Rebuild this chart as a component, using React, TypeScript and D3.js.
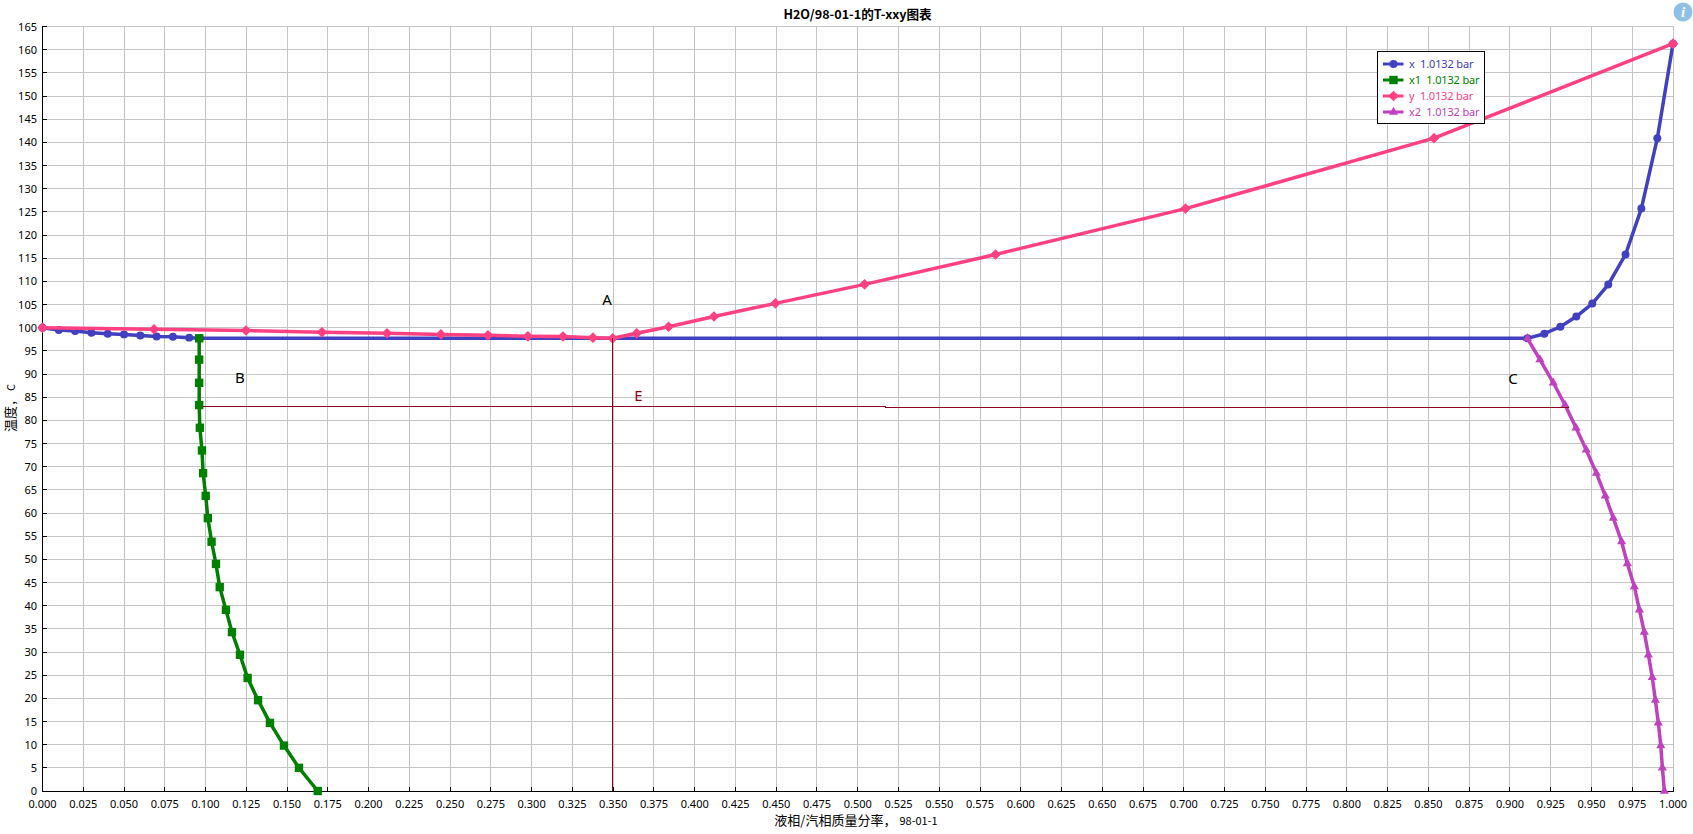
import React from 'react';
import * as d3 from 'd3';

const W = 1693, H = 834;
const xTicks = d3.range(0, 41).map(i => i * 0.025);
const yTicks = d3.range(0, 34).map(i => i * 5);

const xX = [0,0.01,0.02,0.03,0.04,0.05,0.06,0.07,0.08,0.09,0.0965,0.9107,0.9211,0.9309,0.9407,0.9505,0.9603,0.9709,0.9806,0.9904,1];
const xT = [100,99.5,99.3,98.9,98.7,98.55,98.3,98.07,98.05,97.85,97.7,97.7,98.7,100.2,102.4,105.2,109.3,115.8,125.7,140.9,161.3];

const x1X = [0.0961,0.0961,0.0961,0.0961,0.0965,0.0978,0.0985,0.1001,0.1014,0.1037,0.1064,0.1087,0.1125,0.1162,0.1211,0.1258,0.1322,0.1395,0.1481,0.1573,0.1688];
const x1T = [97.7,93.1,88.1,83.3,78.4,73.5,68.6,63.7,58.9,53.8,49,44,39.1,34.3,29.4,24.4,19.6,14.7,9.8,5,0];

const yX = [0,0.0684,0.1248,0.1714,0.2113,0.2444,0.2732,0.2977,0.3192,0.3376,0.3497,0.3644,0.384,0.4118,0.4495,0.5042,0.5845,0.701,0.8534,1];
const yT = [100,99.65,99.4,99,98.8,98.55,98.35,98.13,98.1,97.85,97.7,98.78,100.2,102.4,105.25,109.35,115.8,125.7,140.9,161.3];

const x2X = [0.9107,0.9184,0.9266,0.9338,0.9405,0.9468,0.953,0.9585,0.9634,0.9685,0.972,0.9763,0.9794,0.9824,0.9849,0.9873,0.9892,0.991,0.9925,0.9935,0.9947];
const x2T = [97.7,93.1,88.1,83.3,78.4,73.6,68.6,63.7,58.9,53.8,49.1,44.1,39.1,34.3,29.4,24.5,19.6,14.7,9.8,5,0];

const tieV = { x: [0.3496, 0.3496], t: [97.7, 0] };
const tieH = { x: [0.0986, 0.5173, 0.5173, 0.9364], t: [83, 83, 82.87, 82.87] };

const seriesNames = ['x  1.0132 bar', 'x1  1.0132 bar', 'y  1.0132 bar', 'x2  1.0132 bar'];
const seriesColors = ['#4040c0', '#008000', '#ff4081', '#c040c0'];

const sx = d3.scaleLinear().domain([0, 1]).range([42.5, 1673]);
const sy = d3.scaleLinear().domain([0, 165]).range([791, 26.5]);
const snap = (v: number) => Math.floor(v) + 0.5;
const uiFont = '"Noto Sans", "Noto Sans CJK SC", sans-serif';
const cjkFont = '"Noto Sans CJK SC", "Noto Sans", sans-serif';

const path = (xs: number[], ts: number[]) =>
  d3.line<number>().x(i => sx(xs[i])).y(i => sy(ts[i]))(xs.map((_, i) => i)) as string;

const sym = (type: d3.SymbolType, size: number) => d3.symbol().type(type).size(size)() as string;
const symbols = [
  sym(d3.symbolCircle, 50),
  sym(d3.symbolSquare, 70),
  sym(d3.symbolDiamond2, 72),
  sym(d3.symbolTriangle, 36),
];

const series = [
  { xs: xX, ts: xT, i: 0 },
  { xs: x1X, ts: x1T, i: 1 },
  { xs: yX, ts: yT, i: 2 },
  { xs: x2X, ts: x2T, i: 3 },
];

export default function App() {
  return (
    <svg width={W} height={H} style={{ position: 'absolute', left: 0, top: 0, display: 'block', background: '#fff' }}>
      <g stroke="#c4c4c4" strokeWidth={1}>
        {xTicks.slice(1).map((v, i) => <line key={i} x1={snap(sx(v))} x2={snap(sx(v))} y1={26} y2={791} />)}
        {yTicks.slice(1).map((v, i) => <line key={i} x1={42} x2={1674} y1={snap(sy(v))} y2={snap(sy(v))} />)}
      </g>
      <g stroke="#000" strokeWidth={1}>
        <line x1={42.5} x2={42.5} y1={26} y2={792} />
        <line x1={42} x2={1674} y1={791.5} y2={791.5} />
        {xTicks.map((v, i) => <line key={i} x1={snap(sx(v))} x2={snap(sx(v))} y1={787} y2={791} />)}
        {yTicks.map((v, i) => <line key={i} x1={43} x2={47} y1={snap(sy(v))} y2={snap(sy(v))} />)}
      </g>
      <g fontFamily={uiFont} fontSize={11} fill="#000">
        {xTicks.map((v, i) => <text key={i} x={sx(v)} y={808} textAnchor="middle">{v.toFixed(3)}</text>)}
        {yTicks.map((v, i) => <text key={i} x={37} y={sy(v) + 4} textAnchor="end">{v}</text>)}
      </g>

      {series.map(s => (
        <g key={s.i} fill={seriesColors[s.i]}>
          <path d={path(s.xs, s.ts)} fill="none" stroke={seriesColors[s.i]} strokeWidth={3.5} strokeLinejoin="round" />
          {s.xs.map((v, k) => (
            <path key={k} d={symbols[s.i]} transform={`translate(${sx(v)},${sy(s.ts[k])})`} />
          ))}
        </g>
      ))}

      <g fill="none" stroke="#8b0020" strokeWidth={1} shapeRendering="crispEdges">
        <path d={path(tieV.x, tieV.t)} />
        <path d={path(tieH.x, tieH.t)} />
      </g>

      <g fontFamily={uiFont} fontSize={15}>
        <text x={607} y={305} textAnchor="middle" fill="#000">A</text>
        <text x={240} y={383} textAnchor="middle" fill="#000">B</text>
        <text x={1513} y={384} textAnchor="middle" fill="#000">C</text>
        <text x={638.5} y={401} textAnchor="middle" fill="#8b0020">E</text>
      </g>

      <text x={857.5} y={19} textAnchor="middle" fontFamily={cjkFont} fontSize={12.6} fontWeight={700} fill="#000">H2O/98-01-1的T-xxy图表</text>
      <text x={856} y={825} textAnchor="middle" fontFamily={cjkFont} fontSize={13} fill="#000">
        液相/汽相质量分率，<tspan fontSize={11} dx={3}>98-01-1</tspan>
      </text>
      <text transform="translate(15,408) rotate(-90)" textAnchor="middle" fontFamily={cjkFont} fontSize={13} fill="#000">
        温度，<tspan fontSize={11} dx={2}>C</tspan>
      </text>

      <g>
        <rect x={1377.5} y={51.5} width={107} height={72} fill="#fff" stroke="#000" strokeWidth={1} />
        {seriesNames.map((name, i) => {
          const yy = 64 + i * 16;
          return (
            <g key={i} fill={seriesColors[i]}>
              <line x1={1383} x2={1403.5} y1={yy} y2={yy} stroke={seriesColors[i]} strokeWidth={3} />
              <path d={symbols[i]} transform={`translate(1393.5,${yy})`} />
              <text x={1409} y={yy + 4} fontFamily={uiFont} fontSize={11} letterSpacing={-0.15} style={{ whiteSpace: 'pre' }}>{name}</text>
            </g>
          );
        })}
      </g>

      <circle cx={1683} cy={12} r={9.5} fill="#8fc1e6" />
      <text x={1683} y={17} textAnchor="middle" fontFamily="'Liberation Serif', serif" fontStyle="italic" fontWeight={700} fontSize={15} fill="#fff">i</text>
    </svg>
  );
}
